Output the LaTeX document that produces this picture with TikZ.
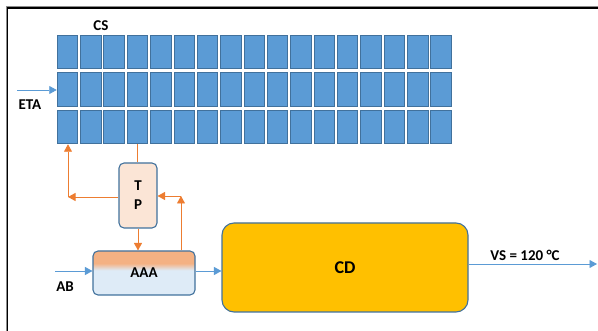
\documentclass[tikz,border=0pt]{standalone}
\usepackage{fontspec}
\setmainfont{Carlito}
\usetikzlibrary{positioning,arrows.meta}
\definecolor{cCell}{HTML}{5B9BD5}
\definecolor{cEdge}{HTML}{41719C}
\definecolor{cHeat}{HTML}{ED7D31}
\definecolor{cTank}{HTML}{FBE5D6}
\definecolor{cDry} {HTML}{FFC000}
\definecolor{cWarm}{HTML}{F4B183}
\definecolor{cCool}{HTML}{DEEBF7}
\pgfdeclareverticalshading{aaashade}{100bp}{color(0bp)=(cCool); color(53bp)=(cCool);
  color(61bp)=(cWarm); color(100bp)=(cWarm)}
\newcommand{\lbfont}{\fontsize{15}{19}\selectfont\bfseries}
\newcommand{\cdfont}{\fontsize{18}{20}\selectfont\bfseries}
\tikzset{
  >={Triangle[length=7.5pt,width=8pt]},
  sbox/.style={rounded corners=5pt,draw=cEdge,line width=1.1pt,align=center,
               font=\lbfont,inner sep=0pt},
  scell/.style={draw=cEdge,fill=cCell,line width=1pt,minimum width=20.5pt,
                minimum height=33.5pt,inner sep=0pt},
  slab/.style={font=\lbfont,inner sep=1pt},
  sar/.style ={->,line width=0.9pt,cCell},
  sor/.style ={->,line width=0.9pt,cHeat},
}

\begin{document}
\begin{tikzpicture}[x=1pt,y=-1pt]
  \useasboundingbox (0,0) rectangle (598,331);
  \draw[black!45,line width=0.6pt] (6,331) -- (6,6.5) -- (598,6.5);
  \draw[line width=1.2pt] (7.5,331) -- (7.5,8) -- (598,8);
  % collector field
  \foreach \r in {1,2,3}
    \foreach \c in {1,...,17}
      \node[scell] (c-\r-\c) at ({67.5+(\c-1)*23.35},{52+(\r-1)*37.5}) {};
  \node[slab] (cs) at (101,26) {CS};
  \node[slab] (eta) at (30,105) {ETA};
  \coordinate (etain) at (17,90);
  \draw[sar] (etain) -- (etain -| c-2-1.west);
  % tank and heater
  \node[sbox,fill=cTank,minimum width=38pt,minimum height=65pt] (tp) at (138,195.5) {T\\P};
  \node[sbox,shading=aaashade,minimum width=102pt,minimum height=44pt] (aaa) at (144,273) {AAA};
  \node[sbox,fill=cDry,rounded corners=12pt,minimum width=246pt,minimum height=89pt,
        font=\cdfont] (cd) at (345,267.5) {CD};
  \coordinate (tpl) at (68,197);
  \coordinate (aup) at (181,196);
  \draw[sor] (tp.west |- tpl) -- (tpl);
  \draw[sor] (tpl) -- (tpl |- c-3-1.south);
  \draw[line width=0.9pt,cHeat] (c-3-4.south) -- (c-3-4.south |- tp.north);
  \draw[sor] (tp.south) -- (tp.south |- aaa.north);
  \draw[sor] (aaa.north -| aup) -- (aup);
  \draw[sor] (aup) -- (tp.east |- aup);
  % inlet and outlet
  \node[slab] (ab) at (65,287) {AB};
  \coordinate (abin) at (55,271);
  \draw[sar] (abin) -- (abin -| aaa.west);
  \draw[sar] (aaa.east |- abin) -- (abin -| cd.west);
  \coordinate (vsout) at (597,264);
  \draw[sar] (vsout -| cd.east) -- (vsout);
  \node[slab] (vs) at (525,255) {VS = 120 °C};
\end{tikzpicture}
\end{document}
